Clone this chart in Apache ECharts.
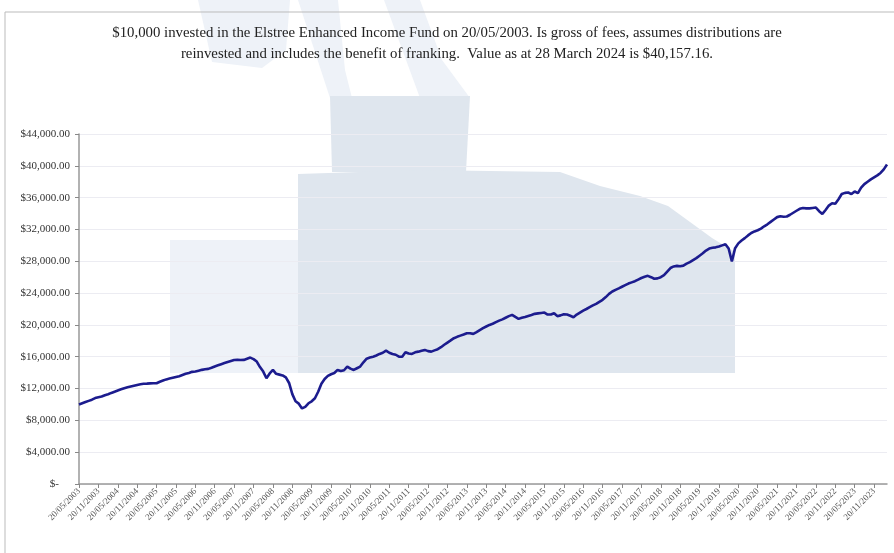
<!DOCTYPE html>
<html>
<head>
<meta charset="utf-8">
<script src="https://cdn.jsdelivr.net/npm/echarts@6/dist/echarts.min.js"></script>
<style>
  html, body { margin: 0; padding: 0; background: #fff; }
  #main { width: 894px; height: 553px; }
</style>
</head>
<body>
<div id="main"></div>
<script>
// month-end style dates, 20/05/2003 .. 28/03/2024 (one point per month)
var firstYear = 2003, firstMonth = 5, lastLabel = '28/03/2024'
var titleText = '$10,000 invested in the Elstree Enhanced Income Fund on 20/05/2003. Is gross of fees, assumes distributions are\n' +
  'reinvested and includes the benefit of franking.  Value as at 28 March 2024 is $40,157.16.'

// fund value, month by month
var value2003 = [10000, 10150, 10300, 10450, 10600, 10800, 10900, 11000]
var value2004 = [11150, 11280, 11450, 11600, 11750, 11900, 12040, 12150, 12250, 12350, 12450, 12540]
var value2005 = [12600, 12620, 12650, 12660, 12670, 12850, 13000, 13150, 13250, 13350, 13450, 13550]
var value2006 = [13700, 13850, 13950, 14100, 14150, 14250, 14350, 14420, 14470, 14620, 14780, 14920]
var value2007 = [15060, 15200, 15330, 15460, 15580, 15620, 15580, 15600, 15750, 15890, 15700, 15390]
var value2008 = [14700, 14130, 13300, 13900, 14340, 13850, 13750, 13650, 13400, 12700, 11300, 10400]
var value2009 = [10100, 9500, 9700, 10150, 10400, 10780, 11600, 12600, 13200, 13590, 13800, 13950]
var value2010 = [14340, 14200, 14300, 14760, 14500, 14340, 14550, 14760, 15300, 15750, 15900, 16010]
var value2011 = [16150, 16350, 16500, 16770, 16500, 16350, 16250, 16000, 16000, 16570, 16400, 16350]
var value2012 = [16550, 16640, 16750, 16860, 16700, 16640, 16800, 16950, 17200, 17500, 17780, 18050]
var value2013 = [18330, 18500, 18650, 18800, 18960, 18950, 18870, 19100, 19350, 19590, 19800, 20000]
var value2014 = [20150, 20350, 20540, 20700, 20900, 21100, 21260, 21000, 20760, 20900, 21000, 21130]
var value2015 = [21250, 21390, 21450, 21500, 21550, 21300, 21300, 21470, 21100, 21200, 21350, 21300]
var value2016 = [21150, 20970, 21300, 21550, 21800, 22000, 22230, 22450, 22640, 22900, 23150, 23500]
var value2017 = [23900, 24200, 24410, 24600, 24800, 25000, 25200, 25350, 25500, 25700, 25900, 26050]
var value2018 = [26170, 26000, 25800, 25850, 26000, 26250, 26700, 27150, 27350, 27420, 27380, 27450]
var value2019 = [27700, 27900, 28150, 28400, 28700, 29000, 29350, 29600, 29700, 29750, 29850, 30000]
var value2020 = [30150, 29600, 27970, 29650, 30250, 30600, 30910, 31250, 31550, 31750, 31900, 32100]
var value2021 = [32400, 32650, 32950, 33250, 33550, 33650, 33600, 33630, 33850, 34100, 34350, 34600]
var value2022 = [34700, 34650, 34650, 34700, 34750, 34300, 33950, 34450, 35000, 35300, 35220, 35800]
var value2023 = [36450, 36600, 36650, 36450, 36770, 36570, 37250, 37700, 38000, 38300, 38550, 38800]
var value2024 = [39100, 39550, 40157.16]

var values = [].concat(value2003, value2004, value2005, value2006, value2007, value2008, value2009,
  value2010, value2011, value2012, value2013, value2014, value2015, value2016, value2017,
  value2018, value2019, value2020, value2021, value2022, value2023, value2024)

var dates = []
for (var i = 0; i < values.length; i++) {
  var m = firstMonth - 1 + i
  var yy = firstYear + Math.floor(m / 12)
  var mm = (m % 12) + 1
  dates.push('20/' + (mm < 10 ? '0' + mm : mm) + '/' + yy)
}
dates[dates.length - 1] = lastLabel

var serif = 'Liberation Serif'
var shade = '#dfe6ee'
var shadeLight = '#eef2f8'

var myChart = echarts.init(document.getElementById('main'))
var option = {
  backgroundColor: '#fff',
  animation: false,
  title: {
    text: titleText,
    left: 'center',
    top: 18,
    textStyle: { fontFamily: serif, fontSize: 14.8, fontWeight: 'normal', color: '#222', lineHeight: 21 }
  },
  graphic: [
    // faint watermark behind the plot
    { type: 'polygon', z: -10, shape: { points: [[198, 0], [290, 0], [286, 50], [262, 68], [212, 62]] }, style: { fill: shadeLight } },
    { type: 'polygon', z: -10, shape: { points: [[298, 0], [338, 0], [345, 70], [352, 98], [330, 98]] }, style: { fill: shadeLight } },
    { type: 'polygon', z: -10, shape: { points: [[384, 0], [420, 0], [442, 60], [470, 98], [420, 98]] }, style: { fill: shadeLight } },
    { type: 'polygon', z: -10, shape: { points: [[330, 96], [470, 96], [466, 172], [332, 172]] }, style: { fill: shade } },
    { type: 'polygon', z: -10, shape: { points: [[170, 240], [298, 240], [298, 373], [170, 373]] }, style: { fill: shadeLight } },
    { type: 'polygon', z: -10, shape: { points: [[298, 174], [420, 170], [560, 172], [600, 186], [640, 196], [668, 206], [690, 222], [712, 238], [735, 252], [735, 373], [298, 373]] }, style: { fill: shade } },
    { type: 'rect', z: -5, shape: { x: 5, y: 12, width: 1000, height: 700 }, style: { fill: 'none', stroke: '#bbb', lineWidth: 1 } }
  ],
  grid: { left: 79, right: 7, top: 134, bottom: 69 },
  xAxis: {
    type: 'category',
    data: dates,
    boundaryGap: false,
    axisLine: { lineStyle: { color: '#999', width: 1.5 } },
    axisTick: { interval: 5, length: 4, lineStyle: { color: '#888' } },
    axisLabel: { interval: 5, rotate: 45, fontFamily: serif, fontSize: 9, color: '#555', margin: 6 }
  },
  yAxis: {
    type: 'value',
    min: 0,
    max: 44000,
    interval: 4000,
    axisLine: { show: true, lineStyle: { color: '#999', width: 1.5 } },
    axisTick: { show: true, length: 4, lineStyle: { color: '#888' } },
    splitLine: { lineStyle: { color: '#ececf2' } },
    axisLabel: {
      fontFamily: serif, fontSize: 11, color: '#333', margin: 9,
      formatter: function (v) {
        if (v === 0) return '$-    '
        return '$' + v.toLocaleString('en-US', { minimumFractionDigits: 2, maximumFractionDigits: 2 })
      }
    }
  },
  series: [{
    type: 'line',
    data: values,
    symbol: 'none',
    lineStyle: { color: '#1c1c8e', width: 2.6 }
  }]
}
myChart.setOption(option)
</script>
</body>
</html>
